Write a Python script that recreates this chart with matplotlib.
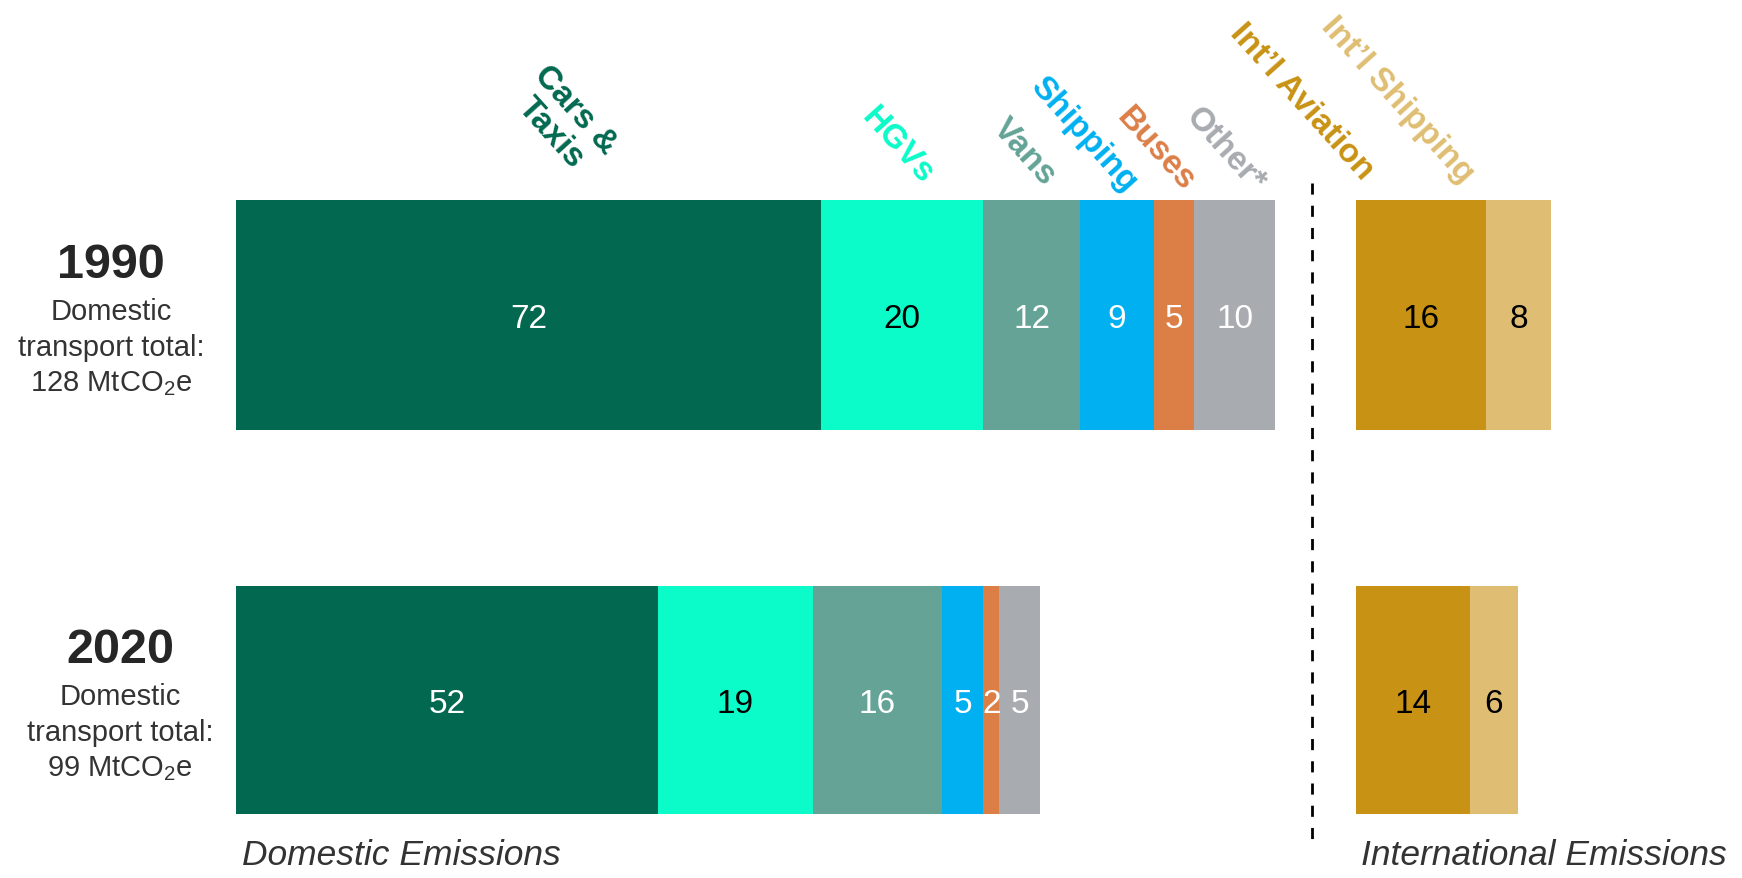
import numpy as np
import matplotlib.pyplot as plt

plt.rcParams['font.family'] = ['Liberation Sans', 'DejaVu Sans']
plt.rcParams['mathtext.fontset'] = 'custom'
plt.rcParams['mathtext.rm'] = 'Liberation Sans'
plt.rcParams['mathtext.it'] = 'Liberation Sans:italic'

# data (MtCO2e)
years = ['1990', '2020']
totals = [128, 99]
dom_cats = ['Cars &\nTaxis', 'HGVs', 'Vans', 'Shipping', 'Buses', 'Other*']
dom_1990 = [72, 20, 12, 9, 5, 10]
dom_2020 = [52, 19, 16, 5, 2, 5]
int_cats = ["Int\u2019l Aviation", "Int\u2019l Shipping"]
int_1990 = [16, 8]
int_2020 = [14, 6]

dom_colors = ['#026950', '#0bfbc9', '#64a396', '#00b0f0', '#dc7f47', '#a8abaf']
dom_txt = ['white', 'black', 'white', 'white', 'white', 'white']
int_colors = ['#c89214', '#dfbe73']
int_txt = ['black', 'black']

# layout (pixels of the 1742x879 canvas)
W, H = 1742, 879
px_per_unit = 8.12
x0 = 236
int_x0 = (1356 - x0) / px_per_unit
row_y = [316, 701]
row_h = [230, 228]

fig = plt.figure(figsize=(W / 100, H / 100), dpi=100)
ax = fig.add_axes([0, 0, 1, 1])
ax.set_xlim(-x0 / px_per_unit, (W - x0) / px_per_unit)
ax.set_ylim(H, 0)
ax.axis('off')

rows = [(dom_1990, int_1990), (dom_2020, int_2020)]
for (dom, intl), y, h in zip(rows, row_y, row_h):
    left = np.concatenate([[0], np.cumsum(dom)[:-1]])
    ax.barh(y, dom, left=left, height=h, color=dom_colors, linewidth=0)
    for v, l, c in zip(dom, left, dom_txt):
        ax.text(l + v / 2, y + 4, str(v), ha='center', va='center', color=c, fontsize=24)
    ileft = int_x0 + np.concatenate([[0], np.cumsum(intl)[:-1]])
    ax.barh(y, intl, left=ileft, height=h, color=int_colors, linewidth=0)
    for v, l, c in zip(intl, ileft, int_txt):
        ax.text(l + v / 2, y + 4, str(v), ha='center', va='center', color=c, fontsize=24)

# rotated category labels (centre positions in pixels)
lab_pos = [(563, 122), (898, 146), (1024, 152), (1083, 135), (1156, 150), (1225, 150)]
for name, (px, py), col in zip(dom_cats, lab_pos, dom_colors):
    ax.text((px - x0) / px_per_unit, py, name, rotation=-48, ha='center', va='center',
            color=col, fontsize=24, fontweight='bold', linespacing=1.12)
int_pos = [(1302, 102), (1397, 100)]
for name, (px, py), col in zip(int_cats, int_pos, int_colors):
    ax.text((px - x0) / px_per_unit, py, name, rotation=-48, ha='center', va='center',
            color=col, fontsize=24, fontweight='bold')

# divider
xd = (1312 - x0) / px_per_unit
ax.plot([xd, xd], [184, 840], color='black', lw=2, ls=(0, (4, 4)))

# left row labels
lx = [(111 - x0) / px_per_unit, (120 - x0) / px_per_unit]
for yr, tot, y, xx in zip(years, totals, row_y, lx):
    ax.text(xx, y - 50, yr, ha='center', va='center', fontsize=35, fontweight='bold', color='#262626')
    ax.text(xx, y + 32, 'Domestic\ntransport total:\n%d MtCO$_2$e' % tot, ha='center',
            va='center', fontsize=21, color='#333333', linespacing=1.33)

ax.text((242 - x0) / px_per_unit, 856, 'Domestic Emissions', ha='left', va='center',
        fontsize=25.5, style='italic', color='#333333')
ax.text((1361 - x0) / px_per_unit, 856, 'International Emissions', ha='left', va='center',
        fontsize=25.5, style='italic', color='#333333')

fig.savefig('out.png', dpi=100)
